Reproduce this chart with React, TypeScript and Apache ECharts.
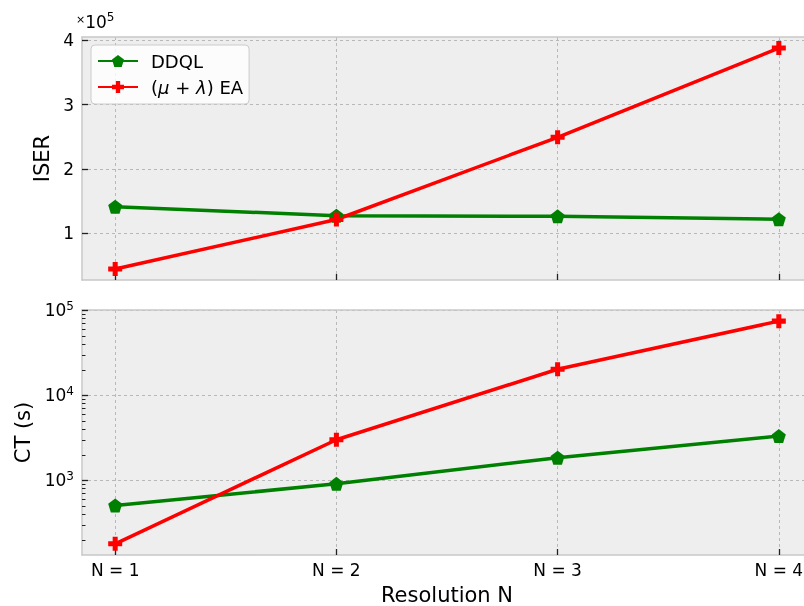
import React, { useEffect, useRef } from 'react';
import * as echarts from 'echarts';

const resolutions = [1, 2, 3, 4];
const xTickLabels = ['N = 1', 'N = 2', 'N = 3', 'N = 4'];
const seriesNames = ['DDQL', '(μ + λ) EA'];
const iserDDQL = [141000, 127000, 126000, 121500];
const iserEA = [44000, 121000, 249000, 388000];
const ctDDQL = [508, 914, 1850, 3325];
const ctEA = [180, 3015, 20300, 74700];
const iserTicks = [100000, 200000, 300000, 400000];
const ctTicks = [1000, 10000, 100000];
const ctMinorTicks = [200, 300, 400, 500, 600, 700, 800, 900, 2000, 3000, 4000, 5000, 6000, 7000, 8000, 9000, 20000, 30000, 40000, 50000, 60000, 70000, 80000, 90000];

const FONT = 'DejaVu Sans';
const GREEN = '#008000';
const RED = '#ff0000';
const FRAME = '#c8c8c8';
const PENTAGON = 'path://M0,-1 L0.951,-0.309 L0.588,0.809 L-0.588,0.809 L-0.951,-0.309 Z';
const PLUS = 'path://M-1,-0.36 L-0.36,-0.36 L-0.36,-1 L0.36,-1 L0.36,-0.36 L1,-0.36 L1,0.36 L0.36,0.36 L0.36,1 L-0.36,1 L-0.36,0.36 L-1,0.36 Z';

// the plot extends past the right edge of the 804px picture
const CANVAS_W = 812;
const LEFT = 82;

export default function App() {
  const ref = useRef<HTMLDivElement>(null);
  useEffect(() => {
    if (!ref.current) return;
    const chart = echarts.init(ref.current, null, { renderer: 'svg' });
    const gridCommon = { left: LEFT, right: 0, show: true, backgroundColor: '#eeeeee', borderWidth: 0 };
    const frameLine = { show: true, onZero: false, lineStyle: { color: FRAME, width: 1.5 } };
    const splitLine = { show: true, lineStyle: { color: '#b8b8b8', type: [3, 3], width: 1 } };
    const tick = { show: true, inside: true, length: 6, lineStyle: { color: '#222', width: 1.3 } };
    const xBase = {
      type: 'value', min: 0.85, max: 4.15, position: 'bottom',
      axisLine: frameLine, splitLine,
      axisTick: { ...tick, customValues: resolutions },
    };
    const xTop = (g: number) => ({
      type: 'value', min: 0.85, max: 4.15, gridIndex: g, position: 'top',
      axisLine: frameLine, axisTick: { show: false }, axisLabel: { show: false }, splitLine: { show: false },
    });
    const mk = (name: string, color: string, symbol: string, size: number, x: number, y: number, vals: number[]) => ({
      name, type: 'line', xAxisIndex: x, yAxisIndex: y,
      data: resolutions.map((r, i) => [r, vals[i]]),
      lineStyle: { color, width: 3.5 }, itemStyle: { color },
      symbol, symbolSize: size, showSymbol: true, z: 3,
    });
    const option: any = {
      animation: false,
      textStyle: { fontFamily: FONT },
      grid: [
        { ...gridCommon, top: 37, height: 243 },
        { ...gridCommon, top: 310, height: 245 },
        { left: LEFT, right: 0, top: 310, height: 245, show: false },
      ],
      legend: {
        data: seriesNames, left: 91, top: 45, orient: 'vertical',
        padding: [7, 6, 8, 6], itemGap: 8, itemWidth: 40, itemHeight: 15,
        backgroundColor: 'rgba(255,255,255,0.8)', borderColor: '#cccccc', borderWidth: 1, borderRadius: 4,
        textStyle: { fontFamily: FONT, fontSize: 18, color: '#000', padding: [0, 0, 0, 8], rich: { i: { fontStyle: 'italic', fontFamily: FONT, fontSize: 18 } } },
        formatter: (n: string) => n === seriesNames[1] ? '({i|μ} + {i|λ}) EA' : n,
      },
      xAxis: [
        { ...xBase, gridIndex: 0, axisLabel: { show: false } },
        {
          ...xBase, gridIndex: 1,
          axisLabel: { show: true, customValues: resolutions, margin: 6, fontSize: 17, color: '#000', fontFamily: FONT, formatter: (v: number) => xTickLabels[resolutions.indexOf(v)] },
          name: 'Resolution N', nameLocation: 'middle', nameGap: 29,
          nameTextStyle: { fontSize: 21, color: '#000', fontFamily: FONT },
        },
        xTop(0),
        xTop(1),
        {
          type: 'value', min: 0.85, max: 4.15, gridIndex: 2, show: false,
        },
      ],
      yAxis: [
        {
          type: 'value', gridIndex: 0, min: 26800, max: 405200, position: 'left',
          axisLine: frameLine, splitLine,
          axisTick: { ...tick, customValues: iserTicks },
          axisLabel: { customValues: iserTicks, margin: 8, fontSize: 17, color: '#000', fontFamily: FONT, formatter: (v: number) => String(Math.round(v / 100000)) },
          name: 'ISER', nameLocation: 'middle', nameGap: 25,
          nameTextStyle: { fontSize: 21, color: '#000', fontFamily: FONT },
        },
        {
          type: 'log', gridIndex: 1, min: 133, max: 101000, logBase: 10, position: 'left',
          axisLine: frameLine, splitLine,
          axisTick: { ...tick, customValues: ctTicks },
          axisLabel: {
            customValues: ctTicks, margin: 8, fontSize: 17, color: '#000', fontFamily: FONT,
            formatter: (v: number) => `{b|10}{s|${Math.round(Math.log10(v))}}`,
            rich: { b: { fontSize: 17, fontFamily: FONT, color: '#000' }, s: { fontSize: 12, fontFamily: FONT, color: '#000', padding: [0, 0, 9, 0] } },
          },
          name: 'CT (s)', nameLocation: 'middle', nameGap: 44,
          nameTextStyle: { fontSize: 21, color: '#000', fontFamily: FONT },
        },
        {
          type: 'log', gridIndex: 2, min: 133, max: 101000, logBase: 10, position: 'left',
          axisLine: { show: false }, splitLine: { show: false },
          axisTick: { show: true, inside: true, length: 3.5, customValues: ctMinorTicks, lineStyle: { color: '#222', width: 1 } },
          axisLabel: { show: false },
          z: 6,
        },
      ],
      graphic: [
        {
          type: 'text', left: 76, top: 11,
          style: {
            text: '{x|×}{b|10}{s|5}',
            rich: {
              x: { fontSize: 11, fontFamily: FONT, fill: '#000', padding: [0, 0, 4, 0] },
              b: { fontSize: 17, fontFamily: FONT, fill: '#000' },
              s: { fontSize: 12, fontFamily: FONT, fill: '#000', padding: [0, 0, 9, 0] },
            },
          },
        },
      ],
      series: [
        mk(seriesNames[0], GREEN, PENTAGON, 14, 0, 0, iserDDQL),
        mk(seriesNames[1], RED, PLUS, 14, 0, 0, iserEA),
        mk(seriesNames[0], GREEN, PENTAGON, 14, 1, 1, ctDDQL),
        mk(seriesNames[1], RED, PLUS, 14, 1, 1, ctEA),
      ],
    };
    chart.setOption(option);
    return () => chart.dispose();
  }, []);
  return <div ref={ref} style={{ position: 'fixed', left: 0, top: 0, width: CANVAS_W, height: 606 }} />;
}
